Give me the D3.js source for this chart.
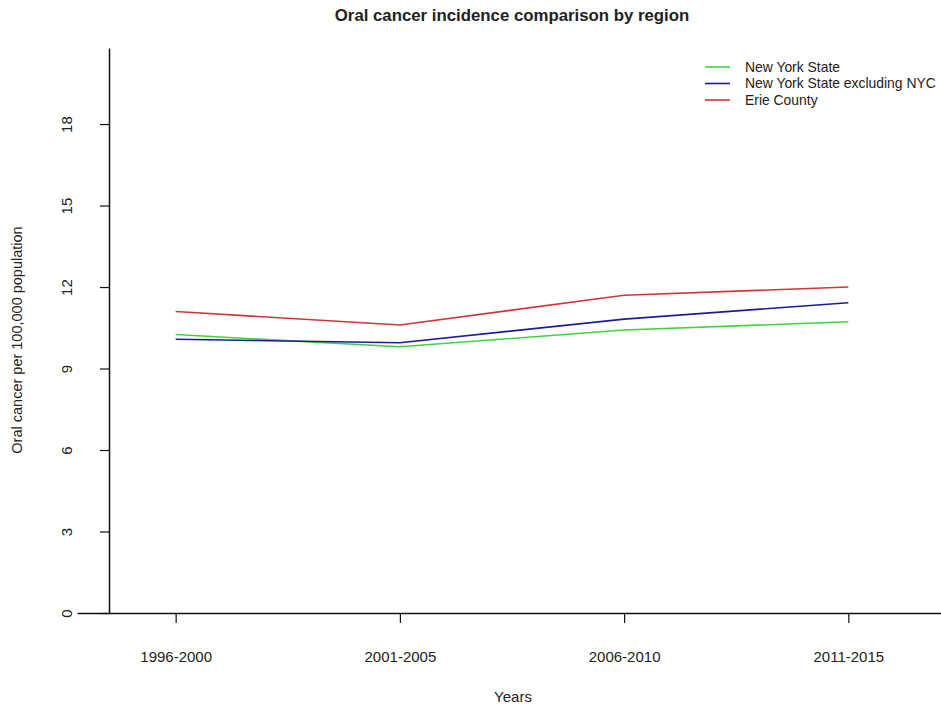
<!DOCTYPE html>
<html>
<head>
<meta charset="utf-8">
<script src="https://cdn.jsdelivr.net/npm/d3@7"></script>
<style>
  html, body { margin: 0; padding: 0; background: #fff; }
  svg { display: block; }
  text { font-family: "Liberation Sans", Arial, sans-serif; fill: #222; }
</style>
</head>
<body>
<script>
const periods = ["1996-2000", "2001-2005", "2006-2010", "2011-2015"];
const seriesNames = ["New York State", "New York State excluding NYC", "Erie County"];
const seriesColors = ["#3fd43f", "#1c1c96", "#d03535"];
const nysValues = [10.25, 9.8, 10.42, 10.72];
const nysExNycValues = [10.08, 9.95, 10.82, 11.42];
const erieValues = [11.1, 10.6, 11.7, 12.0];
const yTicks = [0, 3, 6, 9, 12, 15, 18];

const W = 941, H = 707;
const svg = d3.select("body").append("svg").attr("width", W).attr("height", H);

const y = d3.scaleLinear().domain([0, 20.8]).range([613, 48]);
const x = d3.scalePoint().domain(periods).range([77, 947]).padding(0.44);

// Y axis
const yAxis = svg.append("g").attr("transform", "translate(109,0)")
  .call(d3.axisLeft(y).tickValues(yTicks).tickSize(9).tickSizeOuter(0).tickFormat(d3.format("d")));
yAxis.select(".domain").attr("stroke", "#111").attr("stroke-width", 1.5);
yAxis.selectAll(".tick line").attr("stroke", "#111").attr("stroke-width", 1.2);
yAxis.selectAll(".tick text")
  .attr("transform", "rotate(-90)")
  .attr("x", 0).attr("y", -42).attr("dy", "0.35em")
  .attr("text-anchor", "middle")
  .style("font-size", "15px");

// X axis
const xAxis = svg.append("g").attr("transform", "translate(0,613)")
  .call(d3.axisBottom(x).tickSize(10).tickSizeOuter(0));
xAxis.select(".domain").attr("stroke", "#111").attr("stroke-width", 1.5);
xAxis.selectAll(".tick line").attr("stroke", "#111").attr("stroke-width", 1.2);
xAxis.selectAll(".tick text").attr("y", 44).attr("dy", "0.35em").style("font-size", "15px");

// Lines
const allSeries = [nysValues, nysExNycValues, erieValues];
const line = d3.line().x((d, i) => x(periods[i])).y(d => y(d));
svg.append("g").selectAll("path").data(allSeries).join("path")
  .attr("d", d => line(d))
  .attr("fill", "none")
  .attr("stroke", (d, i) => seriesColors[i])
  .attr("stroke-width", 1.6);

// Title
svg.append("text").attr("x", 512).attr("y", 15).attr("dy", "0.35em")
  .attr("text-anchor", "middle").style("font-size", "16.8px").style("font-weight", "bold")
  .text("Oral cancer incidence comparison by region");

// Axis titles
svg.append("text").attr("x", 513).attr("y", 697).attr("dy", "0.35em")
  .attr("text-anchor", "middle").style("font-size", "15px").text("Years");
svg.append("text").attr("transform", "translate(17,340) rotate(-90)").attr("dy", "0.35em")
  .attr("text-anchor", "middle").style("font-size", "14.5px").text("Oral cancer per 100,000 population");

// Legend
const legend = svg.append("g").attr("transform", "translate(705,67)");
const items = legend.selectAll("g").data(seriesNames).join("g")
  .attr("transform", (d, i) => `translate(0,${i * 16.5})`);
items.append("line").attr("x1", 0).attr("x2", 25).attr("y1", 0).attr("y2", 0)
  .attr("stroke", (d, i) => seriesColors[i]).attr("stroke-width", 1.6);
items.append("text").attr("x", 40).attr("y", 0).attr("dy", "0.35em")
  .style("font-size", "13.9px").text(d => d);
</script>
</body>
</html>
